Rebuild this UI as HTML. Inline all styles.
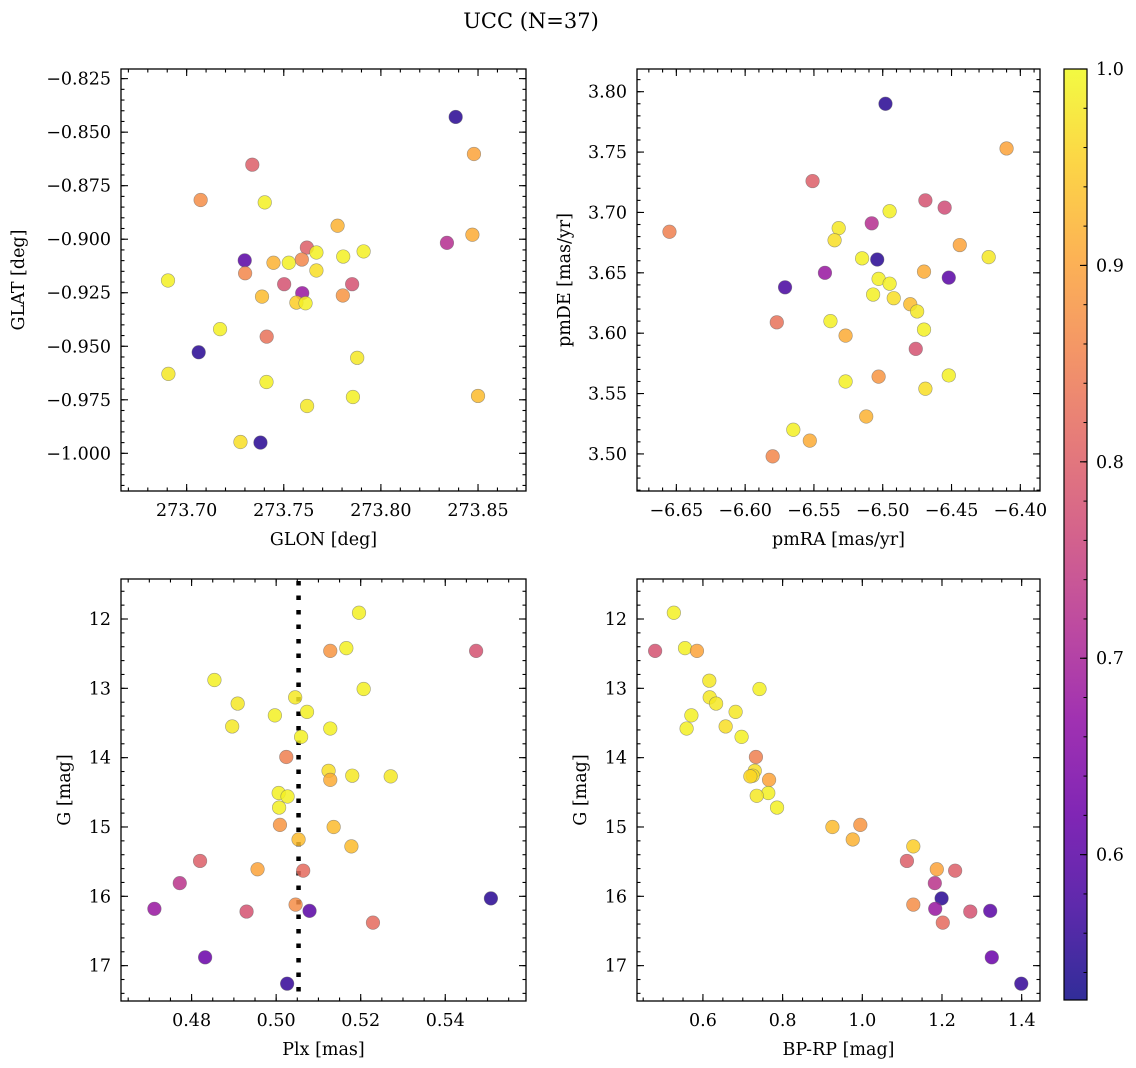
<!DOCTYPE html>
<html><head><meta charset="utf-8">
<style>
html,body{margin:0;padding:0;background:#fff;}
svg{display:block;font-family:"DejaVu Serif","Liberation Serif",serif;}
</style></head>
<body>
<svg id="fig" width="1136" height="1068" viewBox="0 0 1136 1068" xmlns="http://www.w3.org/2000/svg">
<text x="531" y="28" font-size="21" text-anchor="middle">UCC (N=37)</text>
</svg>
<script>
// ---- data ----
const glon = [273.8385,273.8479,273.7338,273.7072,273.7402,273.7777,273.8471,273.8340,273.7619,273.7911,273.7668,273.7299,273.7447,273.7526,273.7593,273.7806,273.7668,273.7301,273.6904,273.7502,273.7852,273.7595,273.7388,273.7804,273.7565,273.7612,273.7172,273.7412,273.7062,273.7878,273.6906,273.7411,273.7856,273.8500,273.7620,273.7277,273.7380];
const glat = [-0.8429,-0.8602,-0.8652,-0.8817,-0.8828,-0.8937,-0.8979,-0.9017,-0.9039,-0.9057,-0.9062,-0.9099,-0.9110,-0.9110,-0.9095,-0.9081,-0.9146,-0.9159,-0.9193,-0.9210,-0.9210,-0.9252,-0.9268,-0.9263,-0.9296,-0.9299,-0.9420,-0.9455,-0.9528,-0.9554,-0.9629,-0.9667,-0.9737,-0.9732,-0.9779,-0.9947,-0.9950];
const probA = [0.55,0.90,0.80,0.87,0.99,0.92,0.91,0.72,0.80,0.99,0.99,0.60,0.92,0.99,0.86,0.99,0.97,0.86,0.99,0.78,0.78,0.68,0.93,0.88,0.95,0.99,0.99,0.83,0.55,0.98,0.98,0.99,0.99,0.93,0.98,0.97,0.55];
const pmra = [-6.498,-6.410,-6.551,-6.469,-6.455,-6.495,-6.508,-6.532,-6.655,-6.535,-6.444,-6.423,-6.515,-6.504,-6.542,-6.470,-6.452,-6.571,-6.503,-6.495,-6.507,-6.492,-6.480,-6.475,-6.577,-6.538,-6.470,-6.527,-6.476,-6.452,-6.503,-6.527,-6.469,-6.512,-6.565,-6.553,-6.580];
const pmde = [3.790,3.753,3.726,3.710,3.704,3.701,3.691,3.687,3.684,3.677,3.673,3.663,3.662,3.661,3.650,3.651,3.646,3.638,3.645,3.641,3.632,3.629,3.624,3.618,3.609,3.610,3.603,3.598,3.587,3.565,3.564,3.560,3.554,3.531,3.520,3.511,3.498];
const probB = [0.55,0.90,0.80,0.78,0.77,0.99,0.72,0.98,0.85,0.97,0.90,0.98,0.99,0.55,0.68,0.91,0.60,0.58,0.99,0.99,0.99,0.97,0.93,0.98,0.83,0.99,0.99,0.91,0.78,0.99,0.88,0.99,0.97,0.92,0.99,0.91,0.86];
const plx = [0.5196,0.5128,0.5166,0.5473,0.4854,0.5207,0.5045,0.4909,0.5073,0.4997,0.4896,0.5128,0.5059,0.5024,0.5124,0.5128,0.5180,0.5271,0.5006,0.5027,0.5007,0.5009,0.5136,0.5053,0.5178,0.4820,0.4956,0.5064,0.4772,0.5508,0.4712,0.5046,0.5079,0.4930,0.5229,0.4832,0.5026];
const gmagC = [11.91,12.46,12.42,12.46,12.88,13.01,13.13,13.22,13.34,13.39,13.55,13.58,13.70,13.99,14.19,14.32,14.26,14.27,14.51,14.56,14.72,14.97,15.00,15.18,15.28,15.49,15.61,15.63,15.81,16.03,16.18,16.12,16.21,16.22,16.38,16.88,17.26];
const probC = [0.99,0.88,0.99,0.78,0.99,0.99,0.98,0.98,0.99,0.99,0.98,0.99,0.99,0.85,0.97,0.91,0.98,0.98,0.99,0.99,0.99,0.88,0.93,0.93,0.93,0.80,0.90,0.82,0.73,0.55,0.68,0.87,0.60,0.78,0.82,0.62,0.56];
const bprp = [0.527,0.480,0.555,0.585,0.616,0.742,0.617,0.633,0.682,0.571,0.657,0.559,0.697,0.733,0.730,0.766,0.725,0.719,0.764,0.735,0.786,0.995,0.925,0.976,1.128,1.112,1.187,1.233,1.182,1.199,1.183,1.128,1.321,1.271,1.202,1.325,1.399];
const gmagD = [11.91,12.46,12.42,12.46,12.89,13.01,13.13,13.22,13.34,13.39,13.55,13.58,13.70,13.99,14.19,14.32,14.26,14.27,14.51,14.55,14.72,14.97,15.00,15.18,15.28,15.49,15.61,15.63,15.81,16.03,16.18,16.12,16.21,16.22,16.38,16.88,17.26];
const probD = [0.99,0.78,0.99,0.90,0.98,0.99,0.98,0.98,0.98,0.99,0.97,0.99,0.99,0.85,0.97,0.90,0.97,0.96,0.99,0.98,0.99,0.88,0.93,0.92,0.95,0.80,0.90,0.80,0.73,0.55,0.68,0.87,0.60,0.78,0.82,0.62,0.56];
const plxMedian = [0.5053];
const ticksGlon = [273.70,273.75,273.80,273.85];
const ticksGlat = [-0.825,-0.850,-0.875,-0.900,-0.925,-0.950,-0.975,-1.000];
const ticksPmra = [-6.65,-6.60,-6.55,-6.50,-6.45,-6.40];
const ticksPmde = [3.80,3.75,3.70,3.65,3.60,3.55,3.50];
const ticksPlx = [0.48,0.50,0.52,0.54];
const ticksG = [12,13,14,15,16,17];
const ticksBprp = [0.6,0.8,1.0,1.2,1.4];
const ticksCbar = [0.6,0.7,0.8,0.9,1.0];
const cbarRange = [0.526,1.0];

const NS='http://www.w3.org/2000/svg';
const svg=document.getElementById('fig');
const FS=17.5;
function mk(tag,attrs,parent){const e=document.createElementNS(NS,tag);for(const k in attrs)e.setAttribute(k,attrs[k]);(parent||svg).appendChild(e);return e;}

const plasma=['#0d0887','#41049d','#6a00a8','#8f0da4','#b12a90','#cc4778','#e16462','#f2844b','#fca636','#fcce25','#f0f921'];
function hex(h){return [parseInt(h.slice(1,3),16),parseInt(h.slice(3,5),16),parseInt(h.slice(5,7),16)];}
function cmap(t){t=Math.max(0,Math.min(1,t));const f=t*10;const i=Math.min(9,Math.floor(f));const r=f-i;const a=hex(plasma[i]),b=hex(plasma[i+1]);
 return 'rgb('+a.map((v,k)=>Math.round(v+(b[k]-v)*r)).join(',')+')';}
function pcol(p){return cmap((p-cbarRange[0])/(cbarRange[1]-cbarRange[0]));}

function panel(cfg){
 const g=mk('g',{});
 
 
 const {x0,x1,y0,y1,xd,yd}=cfg;
 const sx=v=>x0+(v-xd[0])/(xd[1]-xd[0])*(x1-x0);
 const sy=v=>y1-(v-yd[0])/(yd[1]-yd[0])*(y1-y0);
 function ticks(axis,arr,len,labels,fmt){
  arr.forEach(v=>{
   if(axis==='x'){const X=sx(v);if(X<x0-0.5||X>x1+0.5)return;
    mk('line',{x1:X,y1:y1,x2:X,y2:y1-len,stroke:'#000','stroke-width':1.1},g);
    mk('line',{x1:X,y1:y0,x2:X,y2:y0+len,stroke:'#000','stroke-width':1.1},g);
    if(labels){const t=mk('text',{x:X,y:y1+25,'font-size':FS,'text-anchor':'middle'},g);t.textContent=fmt(v);
     
     }
   }else{const Y=sy(v);if(Y<y0-0.5||Y>y1+0.5)return;
    mk('line',{x1:x0,y1:Y,x2:x0+len,y2:Y,stroke:'#000','stroke-width':1.1},g);
    mk('line',{x1:x1,y1:Y,x2:x1-len,y2:Y,stroke:'#000','stroke-width':1.1},g);
    if(labels){const t=mk('text',{x:x0-10,y:Y+6,'font-size':FS,'text-anchor':'end'},g);t.textContent=fmt(v);
     
     }
   }
  });
 }
 const minor=(a,b,s)=>{const r=[];for(let v=Math.ceil(a/s-1e-9)*s;v<=b+1e-9;v+=s)r.push(+v.toFixed(6));return r;};
 ticks('x',minor(Math.min(...xd),Math.max(...xd),cfg.xminor),3.5,false);
 ticks('y',minor(Math.min(...yd),Math.max(...yd),cfg.yminor),3.5,false);
 ticks('x',cfg.xt,7,true,cfg.xf);
 ticks('y',cfg.yt,7,true,cfg.yf);
 if(cfg.vline){cfg.vline.forEach(v=>{const l=mk('line',{x1:sx(v),y1:y0+2,x2:sx(v),y2:y1,stroke:'#000','stroke-width':4.5,'stroke-dasharray':'4.5 10'},g);
  
  });}
 cfg.xs.forEach((v,i)=>{
  const c=mk('circle',{cx:sx(v),cy:sy(cfg.ys[i]),r:6.8,fill:pcol(cfg.ps[i]),'fill-opacity':0.85,stroke:'#666','stroke-opacity':0.6,'stroke-width':0.6},g);
  
  
 });
 const fr=mk('rect',{x:x0,y:y0,width:x1-x0,height:y1-y0,fill:'none',stroke:'#000','stroke-width':1.3},g);
 
 
 const xl=mk('text',{x:(x0+x1)/2,y:y1+54,'font-size':FS,'text-anchor':'middle'},g);xl.textContent=cfg.xlab;
 
 
 const yx=cfg.ylx,yy=(y0+y1)/2;
 const yl=mk('text',{x:yx,y:yy,'font-size':FS,'text-anchor':'middle',transform:'rotate(-90 '+yx+' '+yy+')'},g);yl.textContent=cfg.ylab;
 
 
}
const minus=s=>s.replace('-','\u2212');
panel({name:'glon-glat-panel',x0:121,x1:526,y0:69,y1:491,xd:[273.6662,273.8747],yd:[-1.0176,-0.8205],
 xminor:0.01,yminor:0.005,xt:ticksGlon,yt:ticksGlat,xf:v=>v.toFixed(2),yf:v=>minus(v.toFixed(3)),
 xs:glon,ys:glat,ps:probA,xlab:'GLON [deg]',ylab:'GLAT [deg]',ylx:24});
panel({name:'pm-panel',x0:637,x1:1040,y0:69,y1:491,xd:[-6.6786,-6.3857],yd:[3.4693,3.8188],
 xminor:0.01,yminor:0.01,xt:ticksPmra,yt:ticksPmde,xf:v=>minus(v.toFixed(2)),yf:v=>v.toFixed(2),
 xs:pmra,ys:pmde,ps:probB,xlab:'pmRA [mas/yr]',ylab:'pmDE [mas/yr]',ylx:570});
panel({name:'plx-g-panel',x0:121,x1:526,y0:579,y1:1001,xd:[0.4633,0.5591],yd:[17.51,11.423],
 xminor:0.005,yminor:0.2,xt:ticksPlx,yt:ticksG,xf:v=>v.toFixed(2),yf:v=>String(v),
 xs:plx,ys:gmagC,ps:probC,xlab:'Plx [mas]',ylab:'G [mag]',ylx:70,vline:plxMedian});
panel({name:'cmd-panel',x0:637,x1:1040,y0:579,y1:1001,xd:[0.4345,1.446],yd:[17.51,11.423],
 xminor:0.05,yminor:0.2,xt:ticksBprp,yt:ticksG,xf:v=>v.toFixed(1),yf:v=>String(v),
 xs:bprp,ys:gmagD,ps:probD,xlab:'BP-RP [mag]',ylab:'G [mag]',ylx:586});

(function(){
 const g=mk('g',{});
 
 
 const cx0=1064,cx1=1087,cy0=69,cy1=1000;
 const defs=mk('defs',{},g);
 const lg=mk('linearGradient',{id:'cb',x1:0,y1:1,x2:0,y2:0},defs);
 for(let i=0;i<=20;i++){mk('stop',{offset:(i/20),'stop-color':cmap(i/20),'stop-opacity':0.85},lg);}
 mk('rect',{x:cx0,y:cy0,width:cx1-cx0,height:cy1-cy0,fill:'url(#cb)',stroke:'#000','stroke-width':1.2},g);
 const sy=v=>cy1-(v-cbarRange[0])/(cbarRange[1]-cbarRange[0])*(cy1-cy0);
 for(let v=0.54;v<=1.0001;v+=0.02){const Y=sy(v);mk('line',{x1:cx1,y1:Y,x2:cx1-3.5,y2:Y,stroke:'#000','stroke-width':1},g);}
 ticksCbar.forEach(v=>{const Y=sy(v);mk('line',{x1:cx1,y1:Y,x2:cx1-7,y2:Y,stroke:'#000','stroke-width':1.1},g);
  const t=mk('text',{x:cx1+9,y:Y+6,'font-size':FS},g);t.textContent=v.toFixed(1);
  
  });
})();
</script>
</body></html>
